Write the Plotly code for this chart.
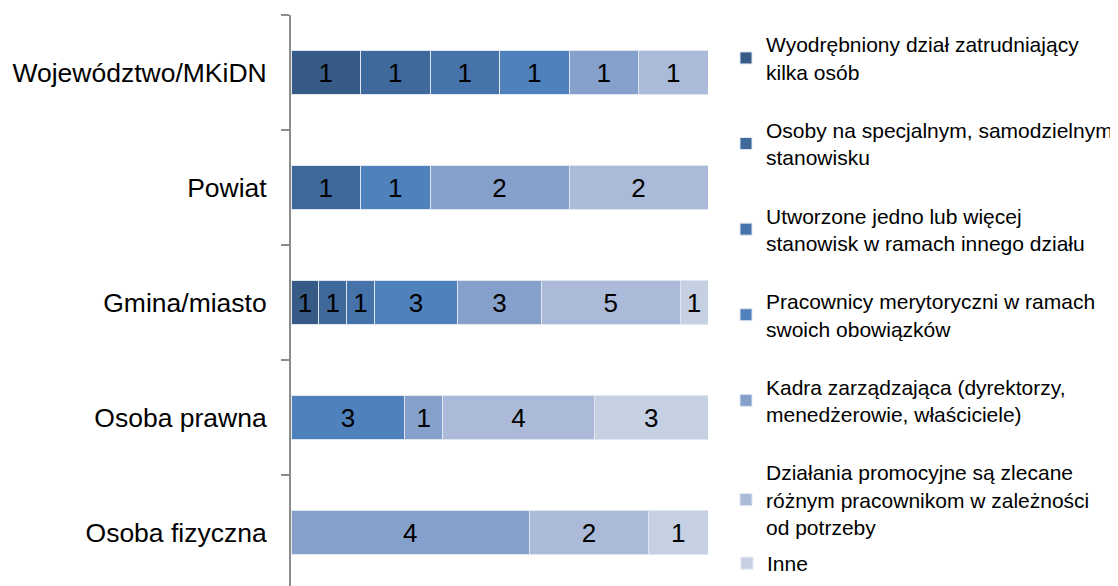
import plotly.graph_objects as go

categories = ["Województwo/MKiDN", "Powiat", "Gmina/miasto", "Osoba prawna", "Osoba fizyczna"]

series_names = [
    "Wyodrębniony dział zatrudniający<br>kilka osób",
    "Osoby na specjalnym, samodzielnym<br>stanowisku",
    "Utworzone jedno lub więcej<br>stanowisk w ramach innego działu",
    "Pracownicy merytoryczni w ramach<br>swoich obowiązków",
    "Kadra zarządzająca (dyrektorzy,<br>menedżerowie, właściciele)",
    "Działania promocyjne są zlecane<br>różnym pracownikom w zależności<br>od potrzeby",
    "Inne",
]

# counts per category (order matches categories)
wyodrebniony = [1, 0, 1, 0, 0]
osoby_stanowisko = [1, 1, 1, 0, 0]
utworzone = [1, 0, 1, 0, 0]
pracownicy = [1, 1, 3, 3, 0]
kadra = [1, 2, 3, 1, 4]
dzialania = [1, 2, 5, 4, 2]
inne = [0, 0, 1, 3, 1]

series_values = [wyodrebniony, osoby_stanowisko, utworzone, pracownicy, kadra, dzialania, inne]
colors = ["#355b86", "#3f699b", "#4673aa", "#4f81bd", "#85a0ca", "#aabad8", "#c5d0e3"]

totals = [sum(s[i] for s in series_values) for i in range(len(categories))]

FONT = "Liberation Sans, Arial, sans-serif"

fig = go.Figure()
for k, (name, vals, col) in enumerate(zip(series_names, series_values, colors)):
    pct = [v / t * 100 if t else 0 for v, t in zip(vals, totals)]
    fig.add_trace(go.Bar(
        y=categories,
        x=pct,
        orientation="h",
        name=name,
        legendgroup=f"g{k}",
        legend="legend2" if k == len(series_names) - 1 else "legend",
        marker=dict(color=col, line=dict(color="#dfe6f0", width=1)),
        text=[str(v) if v else "" for v in vals],
        textposition="inside",
        insidetextanchor="middle",
        textfont=dict(family=FONT, size=26, color="black"),
        hoverinfo="skip",
    ))

fig.update_layout(
    barmode="stack",
    bargap=0.61,
    width=1110,
    height=578,
    margin=dict(l=283, r=409, t=7, b=0),
    paper_bgcolor="white",
    plot_bgcolor="white",
    font=dict(family=FONT, color="black"),
    uniformtext=dict(minsize=24, mode="show"),
    showlegend=True,
    legend=dict(
        x=1.043, xanchor="left",
        y=0.984, yanchor="top",
        font=dict(size=21, color="black"),
        tracegroupgap=28,
        traceorder="grouped",
        bgcolor="rgba(0,0,0,0)",
    ),
    legend2=dict(
        x=1.043, xanchor="left",
        y=0.0753, yanchor="top",
        font=dict(size=21, color="black"),
        bgcolor="rgba(0,0,0,0)",
    ),
    xaxis=dict(range=[0, 100], visible=False, fixedrange=True),
    yaxis=dict(
        type="category",
        range=[4.465, -0.5],
        tickson="boundaries",
        ticks="outside",
        ticklen=8,
        tickwidth=2,
        tickcolor="#8c8c8c",
        showline=True,
        linecolor="#8c8c8c",
        linewidth=2,
        showgrid=False,
        tickfont=dict(size=26.5, color="black"),
        ticklabelstandoff=17,
    ),
)

fig.write_html("out.html")
